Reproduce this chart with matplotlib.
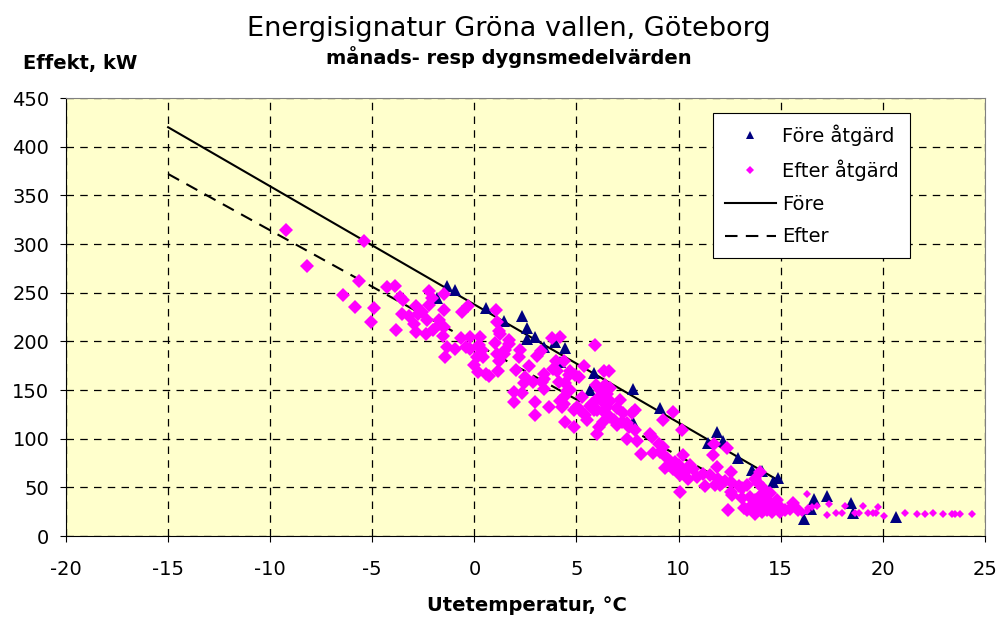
import matplotlib
matplotlib.use("Agg")
import matplotlib.pyplot as plt
from matplotlib.lines import Line2D
import numpy as np

plt.rcParams["axes.unicode_minus"] = False

# Före åtgärd (månadsmedel)
fore_t = [-1.82, -1.34, -0.96, 0.55, 1.43, 2.33, 2.58, 2.98, 2.58, 3.42, 3.96, 4.45, 4.21,
          5.84, 5.67, 7.75, 9.07, 7.75, 11.87, 11.46, 12.17, 12.93, 13.58, 14.07, 14.64,
          14.89, 16.14, 16.63, 16.5, 17.25, 18.44, 18.53, 20.65]
fore_p = [245, 257, 253, 234, 221, 226, 214, 204, 202, 194, 199, 193, 179,
          168, 150, 151, 132, 117, 107, 96, 98, 80, 68, 67, 56,
          60, 18, 38, 28, 41, 34, 24, 20]

# Efter åtgärd (dygnsmedel)
efter_t = [-9.25, -5.41, -8.22, -5.63, -6.42, -5.84, -4.93, -5.04, -4.26, -3.91, -3.65, -3.51,
           -3.83, -2.85, -2.22, -2.22, -1.5, -2.07, -3.54, -3.21, -2.94, -2.85, -2.31, -2.02,
           -2.35, -2.56, -2.74, -1.5, -1.74, -1.70, -1.5, -1.53, -1.34, -1.42, -0.93, -0.62,
           -0.33, -0.68, -0.2, -0.39, -0.2, 0.26, 0.21, 0.29, 0.13, 0.42, 0.0, 0.16,
           0.57, 0.73, 1.08, 1.11, 1.19, 1.03, 1.11, 1.14, 0.38, 1.19, 1.27,
           1.68, 1.68, 1.52, 1.43, 2.17, 2.25, 2.05, 2.69, 3.07, 3.26, 3.80, 4.18,
           4.01, 4.37, 3.85, 4.05, 3.39, 3.39, 2.87, 2.41, 2.33, 1.96, 2.98, 2.98,
           3.65, 4.21, 4.29, 4.45, 4.86, 4.37, 4.53, 4.45, 4.61, 4.70, 4.94, 5.10,
           5.02, 5.27, 5.19, 5.43, 5.51, 5.35, 5.67, 5.84, 6.0, 6.08, 5.97, 6.16,
           6.0, 6.33, 6.57, 6.41, 6.33, 6.49, 6.41, 6.30, 6.62, 6.65, 6.82, 7.14,
           7.30, 7.47, 7.23, 7.55, 7.72, 7.88, 7.88, 7.47, 7.96, 8.16, 8.58, 8.69,
           9.75, 10.16, 9.26, 5.89,
           4.13, 4.4, 4.7, 4.86, 5.76, 6.0, 6.25, 6.49, 6.98, 6.65, 6.98, 2.5, 1.92, 3.39, 3.31,
           9.02, 9.26, 8.77, 9.1, 9.43, 9.51, 9.34, 9.83, 10.0, 9.75, 10.08, 10.32, 10.24,
           10.48, 10.73, 10.9, 10.08, 10.57,
           11.74, 12.36, 11.68, 11.87, 12.56, 12.56, 11.3, 12.04, 11.79, 12.28, 12.12, 11.95,
           11.55, 11.22, 12.56, 12.61, 13.1, 13.37, 13.75, 13.99, 13.91, 14.15, 14.48, 13.1,
           13.5, 13.75, 13.96, 14.24, 14.48, 14.81, 14.97, 13.5, 13.66, 13.91, 14.08, 14.32,
           14.56, 14.73, 14.97, 15.22, 15.46, 15.62, 15.87, 12.44, 16.28, 16.36, 16.52, 13.34,
           13.18, 14.32, 14.64, 14.08, 12.98, 13.75, 16.28, 16.77,
           17.38, 17.25, 17.71, 17.99, 18.15, 18.64, 18.85, 19.05, 19.29, 19.5, 19.75, 20.06,
           21.09, 21.66, 22.06, 22.44, 22.96, 23.37, 23.53, 23.78, 24.35, 16.05, 19.67]
efter_p = [314, 303, 277, 262, 248, 235, 234, 220, 256, 257, 246, 243,
           212, 236, 252, 237, 249, 245, 228, 226, 218, 210, 222, 212,
           208, 230, 228, 232, 222, 218, 215, 206, 194, 184, 192, 230,
           236, 203, 205, 194, 192, 204, 196, 187, 184, 184, 176, 169,
           167, 164, 232, 220, 211, 198, 187, 170, 191, 180, 208,
           201, 197, 191, 187, 184, 191, 171, 175, 185, 190, 203, 205,
           180, 180, 172, 170, 167, 151, 158, 157, 147, 138, 138, 124,
           133, 139, 133, 117, 112, 143, 149, 157, 165, 170, 165, 163,
           133, 143, 129, 124, 119, 175, 134, 129, 105, 112, 155, 150,
           141, 170, 170, 155, 139, 133, 126, 117, 152, 139, 119, 140,
           126, 116, 117, 112, 126, 129, 109, 100, 98, 84, 105, 102,
           127, 109, 119, 196,
           158, 136, 150, 129, 136, 129, 139, 146, 132, 122, 114, 163, 148, 161, 158,
           95, 92, 85, 86, 80, 73, 70, 76, 73, 69, 62.5, 66, 83,
           59, 69, 61, 45, 73,
           95, 90, 83, 71, 66, 56, 51, 52, 52, 57, 54, 59,
           62.5, 64, 45, 42, 49, 52, 59, 66, 54, 49, 44, 38.6,
           40, 37, 40, 38.6, 33.5, 37, 30, 30, 26.7, 28.4, 24.9, 26.7,
           24.9, 28.4, 24.9, 26.7, 27.3, 33.5, 26.7, 26.7, 43.7, 28.4, 30, 26.7,
           28.4, 31.8, 31.8, 33.5, 51, 23, 26, 30.7,
           32.8, 21.5, 23.2, 23.9, 30.7, 23.2, 23.2, 30.7, 23.2, 23.2, 29.4, 20.5,
           23.2, 22.9, 22.9, 23.2, 22.9, 22.9, 22.9, 22.9, 22.2, 24, 24]

# anpassade linjer (ändpunkter avlästa)
fore_linje_t = [-15, 14.9]
fore_linje_p = [420, 57]
efter_linje_t = [-15, 14]
efter_linje_p = [372, 36]

efter_t = np.array(efter_t)
efter_p = np.array(efter_p)
liten = efter_t > 16

fig = plt.figure(figsize=(10.02, 6.19), dpi=100)
ax = fig.add_axes([0.0659, 0.134, 0.917, 0.7076])
ax.set_facecolor("#FFFFCC")

ax.plot(fore_linje_t, fore_linje_p, color="black", lw=1.5, zorder=3)
ax.plot(efter_linje_t, efter_linje_p, color="black", lw=1.5, ls=(0, (6, 4)), zorder=3)
ax.plot(fore_t, fore_p, ls="none", marker="^", ms=9, color="#000080", mew=0, zorder=4)
ax.plot(efter_t[~liten], efter_p[~liten], ls="none", marker="D", ms=7, color="#FF00FF", mew=0, zorder=5)
ax.plot(efter_t[liten], efter_p[liten], ls="none", marker="D", ms=4.5, color="#FF00FF", mew=0, zorder=5)

ax.set_xlim(-20, 25)
ax.set_ylim(0, 450)
ax.set_xticks(range(-20, 26, 5))
ax.set_yticks(range(0, 451, 50))
ax.grid(True, color="black", ls=(0, (6, 5)), lw=0.9)
ax.set_axisbelow(True)
ax.tick_params(axis="both", direction="out", length=4, labelsize=14, color="black")
ax.tick_params(axis="y", pad=8)
ax.tick_params(axis="x", pad=13)
for s in ["left", "bottom"]:
    ax.spines[s].set_color("black")
for s in ["top", "right"]:
    ax.spines[s].set_color("#808080")

handles = [Line2D([], [], ls="none", marker="^", ms=9, color="#000080", mew=0),
           Line2D([], [], ls="none", marker="D", ms=7, color="#FF00FF", mew=0),
           Line2D([], [], color="black", lw=1.5),
           Line2D([], [], color="black", lw=1.5, ls=(0, (6, 4)))]
leg = ax.legend(handles, ["Före åtgärd", "Efter åtgärd", "Före", "Efter"],
                loc="upper left", bbox_to_anchor=(0.704, 0.966), fontsize=14,
                markerscale=0.65, handlelength=2.65, handletextpad=0.3, labelspacing=0.7,
                borderpad=0.6, borderaxespad=0, fancybox=False, framealpha=1, edgecolor="black")
leg.get_frame().set_linewidth(0.8)

fig.text(0.508, 0.9423, "Energisignatur Gröna vallen, Göteborg", ha="center", va="baseline", fontsize=19.5)
fig.text(0.508, 0.8966, "månads- resp dygnsmedelvärden", ha="center", va="baseline", fontsize=14, fontweight="bold")
fig.text(0.023, 0.8885, "Effekt, kW", ha="left", va="baseline", fontsize=14, fontweight="bold")
fig.text(0.526, 0.013, "Utetemperatur, °C", ha="center", va="baseline", fontsize=14, fontweight="bold")

fig.savefig("out.png", dpi=100)
